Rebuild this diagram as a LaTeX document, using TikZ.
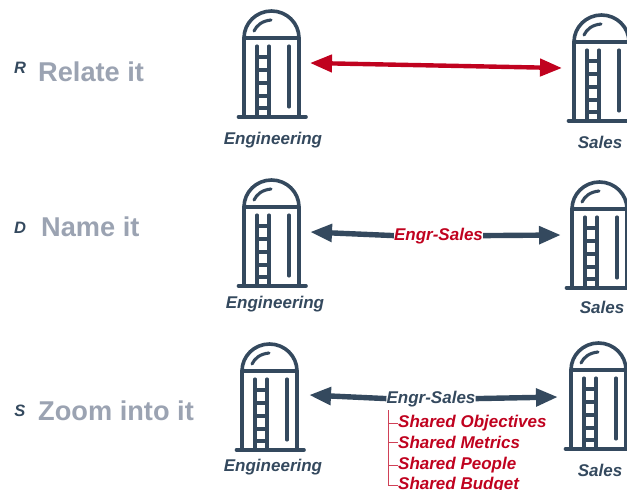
\documentclass[tikz,border=0pt]{standalone}
\usepackage{fontspec}
\setmainfont{Liberation Sans}
\usetikzlibrary{arrows.meta}
\definecolor{navy}{HTML}{34495E}
\definecolor{crim}{HTML}{C0021F}
\definecolor{greyt}{HTML}{9BA3B2}
\tikzset{
  x=1pt,y=-1pt,
  siloline/.style={draw=navy,line width=3.6pt,line cap=round,line join=round},
  silothin/.style={draw=navy,line width=3.1pt,line cap=round},
  silolabel/.style={text=navy,font=\fontsize{17}{18}\selectfont\bfseries\itshape,inner sep=0pt,anchor=base},
  steplabel/.style={text=greyt,font=\fontsize{27.2}{29}\selectfont\bfseries,anchor=base west,inner sep=0pt},
  letterlabel/.style={text=navy,font=\fontsize{16.5}{18}\selectfont\bfseries\itshape,inner sep=0pt,anchor=base},
  redlabel/.style={text=crim,font=\fontsize{17}{18}\selectfont\bfseries\itshape,anchor=base west,inner sep=0pt},
  headl/.style={{Triangle[length=22pt,width=17pt]}-},
  headr/.style={-{Triangle[length=22pt,width=17pt]}},
  linkline/.style={draw=navy,line width=5.4pt},
  redarrow/.style={draw=crim,line width=4.4pt,{Triangle[length=22pt,width=17pt]}-{Triangle[length=22pt,width=17pt]}},
  treeline/.style={draw=crim!75!white,line width=0.9pt},
  silo/.pic={
    \draw[siloline] (-34,-79) arc[start angle=180,end angle=360,x radius=27.5,y radius=27] -- (21,0);
    \draw[siloline] (-34,-79) -- (-34,0);
    \draw[siloline] (-34,-79) -- (21,-79);
    \draw[siloline] (-39.5,0) -- (28,0);
    \draw[silothin] (-24,-86) .. controls (-21,-92) and (-16,-96) .. (-7,-97);
    \draw[silothin] (-21,-71) -- (-21,0) (-9,-71) -- (-9,0);
    \foreach \ry in {-60,-47,-34,-21,-9} \draw[silothin] (-21,\ry) -- (-9,\ry);
    \draw[silothin] (11,-71) -- (11,-10);
  }
}
\begin{document}
\begin{tikzpicture}
\useasboundingbox (0,0) rectangle (627,490);
\clip (0,0) rectangle (627,490);
% silos
\pic at (278,117) {silo};
\pic at (608,121) {silo};
\pic at (278,286) {silo};
\pic at (606,288) {silo};
\pic at (276,450) {silo};
\pic at (605,449) {silo};
% silo labels
\node[silolabel] (eng1) at (273,144) {Engineering};
\node[silolabel] (sal1) at (600,148) {Sales};
\node[silolabel] (eng2) at (275,308) {Engineering};
\node[silolabel] (sal2) at (602,313) {Sales};
\node[silolabel] (eng3) at (273,471) {Engineering};
\node[silolabel] (sal3) at (600,476) {Sales};
% left labels
\node[letterlabel] (r) at (20,73) {R};
\node[steplabel] (relate) at (38,81) {Relate it};
\node[letterlabel] (d) at (20,233) {D};
\node[steplabel] (name) at (41,236) {Name it};
\node[letterlabel] (s) at (20,416) {S};
\node[steplabel] (zoom) at (38,420) {Zoom into it};
% row 1
\coordinate (a1l) at (310,63);
\coordinate (a1r) at (562,68);
\draw[redarrow] (a1l) -- (a1r);
% row 2
\node[redlabel,anchor=base] (es2) at (438.5,240) {Engr-Sales};
\coordinate (a2l) at (310,232);
\coordinate (a2r) at (561,235);
\draw[linkline,headl] (a2l) -- (es2.west);
\draw[linkline,headr] (es2.east) -- (a2r);
% row 3
\node[silolabel] (es3) at (431,403) {Engr-Sales};
\coordinate (a3l) at (309,395);
\coordinate (a3r) at (558,397);
\draw[linkline,headl] (a3l) -- (es3.west);
\draw[linkline,headr] (es3.east) -- (a3r);
% list
\node[redlabel] (l1) at (398,427.5) {Shared Objectives};
\node[redlabel] (l2) at (398,448.5) {Shared Metrics};
\node[redlabel] (l3) at (398,469.5) {Shared People};
\node[redlabel] (l4) at (398,489.5) {Shared Budget};
\coordinate (tree) at (388,410);
\draw[treeline] (tree) |- (l4.west);
\draw[treeline] (tree |- l1.west) -- (l1.west);
\draw[treeline] (tree |- l2.west) -- (l2.west);
\draw[treeline] (tree |- l3.west) -- (l3.west);
\end{tikzpicture}
\end{document}
